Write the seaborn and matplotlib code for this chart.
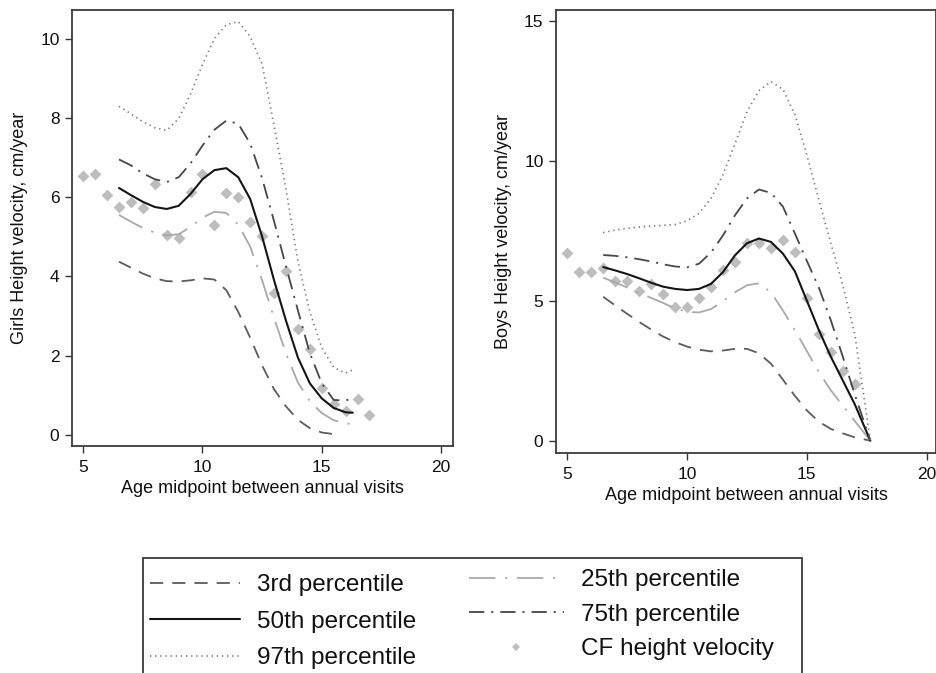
import numpy as np
import pandas as pd
import matplotlib
matplotlib.use("Agg")
import matplotlib.pyplot as plt
import seaborn as sns
from matplotlib.lines import Line2D
from matplotlib.patches import Rectangle

# ---------------- data ----------------
girls_age = [6.5, 7.0, 7.5, 8.0, 8.5, 9.0, 9.5, 10.0, 10.5, 11.0, 11.5, 12.0,
             12.5, 13.0, 13.5, 14.0, 14.5, 15.0, 15.5, 16.0, 16.3]
girls_p25 = [5.55, 5.38, 5.22, 5.10, 5.04, 5.06, 5.25, 5.48, 5.63, 5.60, 5.30, 4.75,
             3.90, 2.95, 2.05, 1.32, 0.85, 0.55, 0.37, 0.29, 0.27]
girls_p50 = [6.23, 6.05, 5.88, 5.75, 5.70, 5.78, 6.08, 6.45, 6.68, 6.73, 6.50, 5.95,
             5.00, 3.90, 2.88, 1.95, 1.30, 0.92, 0.68, 0.57, 0.56]
girls_p75 = [6.95, 6.80, 6.60, 6.45, 6.38, 6.50, 6.85, 7.30, 7.70, 7.93, 7.85, 7.35,
             6.47, 5.39, 4.25, 3.14, 2.06, 1.30, 0.88, 0.87, 0.92]
girls_p97 = [8.29, 8.10, 7.90, 7.75, 7.68, 7.98, 8.60, 9.35, 10.00, 10.35, 10.43, 10.05,
             9.35, 7.80, 6.20, 4.37, 3.10, 2.20, 1.70, 1.56, 1.64]
girls_age_p3 = [6.5, 7.0, 7.5, 8.0, 8.5, 9.0, 9.5, 10.0, 10.5, 11.0, 11.5, 12.0,
                12.5, 13.0, 13.5, 14.0, 14.5, 15.0, 15.5, 15.7]
girls_p3 = [4.37, 4.22, 4.07, 3.95, 3.88, 3.87, 3.90, 3.95, 3.92, 3.65, 3.10, 2.45,
            1.75, 1.15, 0.72, 0.38, 0.17, 0.06, 0.02, 0.00]
girls_cf_age = [5.0, 5.5, 6.0, 6.5, 7.0, 7.5, 8.0, 8.5, 9.0, 9.5, 10.0, 10.5, 11.0,
                11.5, 12.0, 12.5, 13.0, 13.5, 14.0, 14.5, 15.0, 15.5, 16.0, 16.5, 17.0]
girls_cf = [6.53, 6.59, 6.06, 5.76, 5.87, 5.72, 6.33, 5.05, 4.97, 6.14, 6.57, 5.29, 6.11,
            5.99, 5.38, 5.02, 3.57, 4.13, 2.66, 2.16, 1.19, 0.77, 0.61, 0.90, 0.49]

boys_age = [6.5, 7.0, 7.5, 8.0, 8.5, 9.0, 9.5, 10.0, 10.5, 11.0, 11.5, 12.0,
            12.5, 13.0, 13.5, 14.0, 14.5, 15.0, 15.5, 16.0, 16.5, 17.0, 17.65]
boys_p3 = [5.14, 4.83, 4.53, 4.24, 3.97, 3.72, 3.52, 3.36, 3.25, 3.19, 3.22, 3.28,
           3.28, 3.12, 2.75, 2.18, 1.60, 1.08, 0.68, 0.42, 0.26, 0.12, 0.00]
boys_p25 = [5.82, 5.65, 5.47, 5.28, 5.10, 4.92, 4.72, 4.60, 4.58, 4.70, 4.98, 5.30,
            5.55, 5.62, 5.30, 4.65, 3.95, 3.20, 2.45, 1.80, 1.25, 0.70, 0.00]
boys_p50 = [6.20, 6.08, 5.95, 5.80, 5.64, 5.50, 5.42, 5.38, 5.42, 5.60, 6.02, 6.62,
            7.05, 7.22, 7.10, 6.68, 6.05, 5.00, 3.95, 3.00, 2.15, 1.30, 0.00]
boys_p75 = [6.63, 6.60, 6.55, 6.48, 6.40, 6.30, 6.22, 6.19, 6.32, 6.72, 7.33, 8.05,
            8.65, 8.97, 8.85, 8.36, 7.40, 6.42, 5.47, 4.30, 3.00, 1.65, 0.00]
boys_p97 = [7.43, 7.52, 7.58, 7.63, 7.66, 7.69, 7.72, 7.85, 8.12, 8.65, 9.50, 10.60,
            11.75, 12.50, 12.82, 12.55, 11.65, 10.20, 8.60, 7.05, 5.55, 3.80, 0.00]
boys_cf_age = [5.0, 5.5, 6.0, 6.5, 7.0, 7.5, 8.0, 8.5, 9.0, 9.5, 10.0, 10.5, 11.0,
               11.5, 12.0, 12.5, 13.0, 13.5, 14.0, 14.5, 15.0, 15.5, 16.0, 16.5, 17.0]
boys_cf = [6.69, 6.04, 6.04, 6.18, 5.71, 5.71, 5.36, 5.58, 5.23, 4.76, 4.76, 5.11, 5.48,
           6.10, 6.39, 7.05, 7.05, 6.87, 7.17, 6.75, 5.11, 3.81, 3.16, 2.49, 2.02]

legend_labels = ["3rd percentile", "50th percentile", "97th percentile",
                 "25th percentile", "75th percentile", "CF height velocity"]
x_label = "Age midpoint between annual visits"
girls_ylabel = "Girls Height velocity, cm/year"
boys_ylabel = "Boys Height velocity, cm/year"

# ---------------- style ----------------
sns.set_theme(style="white")
plt.rcParams["font.family"] = ["Liberation Sans", "DejaVu Sans"]
plt.rcParams["lines.scale_dashes"] = False

STY = {
    "p3":  dict(color="#5c5c5c", lw=1.3, ls=(0, (9.5, 6.5))),
    "p50": dict(color="#151515", lw=1.5, ls="-"),
    "p97": dict(color="#707070", lw=1.2, ls=(0, (0.9, 2.8))),
    "p25": dict(color="#a9a9a9", lw=1.3, ls=(0, (19, 7, 1.5, 7))),
    "p75": dict(color="#474747", lw=1.3, ls=(0, (11, 5, 1.5, 5))),
}
CF_COLOR = "#bdbdbd"
TXT = "#111111"

fig = plt.figure(figsize=(9.37, 6.73), dpi=100)
axL = fig.add_axes([72 / 937, 1 - 446 / 673, 381 / 937, 436 / 673])
axR = fig.add_axes([556 / 937, 1 - 453 / 673, 380 / 937, 443 / 673])


def draw(ax, cf_age, cf, series):
    sns.scatterplot(x=cf_age, y=cf, ax=ax, marker="D", s=36, color=CF_COLOR,
                    linewidth=0, zorder=2, legend=False)
    for key, xs, ys in series:
        st = STY[key]
        sns.lineplot(x=xs, y=ys, ax=ax, color=st["color"], linewidth=st["lw"],
                     linestyle=st["ls"], errorbar=None, sort=False, zorder=3,
                     legend=False)


draw(axL, girls_cf_age, girls_cf,
     [("p3", girls_age_p3, girls_p3), ("p25", girls_age, girls_p25),
      ("p50", girls_age, girls_p50), ("p75", girls_age, girls_p75),
      ("p97", girls_age, girls_p97)])
draw(axR, boys_cf_age, boys_cf,
     [("p3", boys_age, boys_p3), ("p25", boys_age, boys_p25),
      ("p50", boys_age, boys_p50), ("p75", boys_age, boys_p75),
      ("p97", boys_age, boys_p97)])

axL.set_xlim(4.53, 20.5)
axL.set_ylim(-0.28, 10.72)
axL.set_yticks([0, 2, 4, 6, 8, 10])
axR.set_xlim(4.53, 20.39)
axR.set_ylim(-0.44, 15.38)
axR.set_yticks([0, 5, 10, 15])

for ax, yl in ((axL, girls_ylabel), (axR, boys_ylabel)):
    ax.set_xticks([5, 10, 15, 20])
    ax.set_xlabel(x_label, fontsize=13, labelpad=4, color=TXT)
    ax.set_ylabel(yl, fontsize=13, labelpad=9, color=TXT)
    ax.tick_params(axis="both", which="major", direction="out", length=5,
                   width=1.0, color="#333333", labelsize=12.5, labelcolor=TXT,
                   bottom=True, left=True, pad=4)
    ax.tick_params(axis="x", pad=5)
    for sp in ax.spines.values():
        sp.set_visible(True)
        sp.set_color("#3a3a3a")
        sp.set_linewidth(1.3)
    ax.grid(False)

# ---------------- legend ----------------
fig.patches.append(Rectangle((143 / 937, -0.01), (802 - 143) / 937, 1 - 558 / 673 + 0.01,
                             transform=fig.transFigure, fill=False,
                             edgecolor="#3a3a3a", linewidth=1.3))

def h(key):
    st = STY[key]
    return Line2D([], [], color=st["color"], linewidth=st["lw"], linestyle=st["ls"])

col1 = [h("p3"), h("p50"), h("p97")]
col2 = [h("p25"), h("p75"),
        Line2D([], [], linestyle="none", marker="D", markersize=4.5,
               markerfacecolor=CF_COLOR, markeredgewidth=0)]

leg1 = fig.legend(col1, legend_labels[:3], loc="upper left",
                  bbox_to_anchor=(150 / 937, 1 - 574 / 673), frameon=False,
                  fontsize=17.5, handlelength=3.7, handletextpad=0.7,
                  labelspacing=0.60, borderpad=0, borderaxespad=0, labelcolor=TXT)
leg2 = fig.legend(col2, legend_labels[3:], loc="upper left",
                  bbox_to_anchor=(469 / 937, 1 - 569 / 673), frameon=False,
                  fontsize=17.5, handlelength=3.9, handletextpad=0.7,
                  labelspacing=0.52, borderpad=0, borderaxespad=0, labelcolor=TXT)

fig.savefig("out.png", dpi=100, facecolor="white")
